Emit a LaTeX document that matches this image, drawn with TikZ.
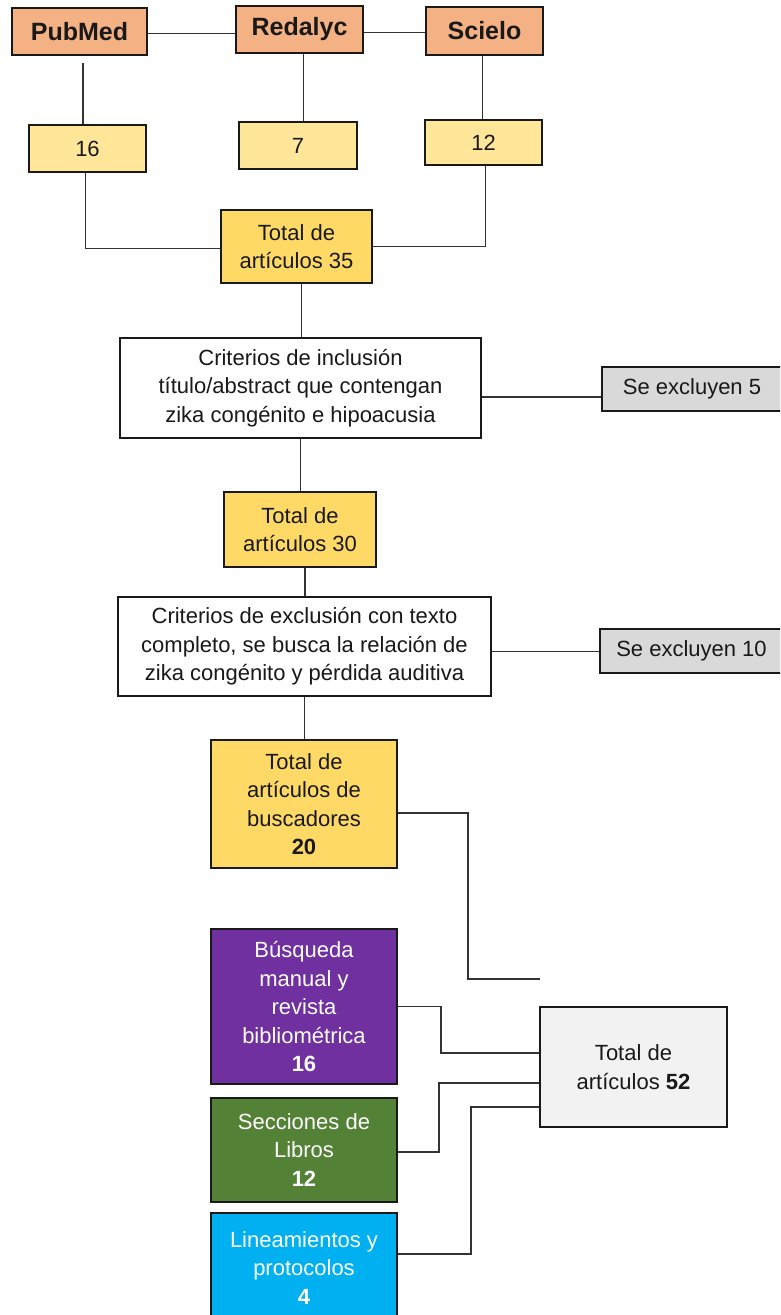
\documentclass[tikz,border=0pt]{standalone}
\usepackage{fontspec}
\setmainfont{Liberation Sans}
\definecolor{cOrange}{HTML}{F4B183}
\definecolor{cLYellow}{HTML}{FFE699}
\definecolor{cYellow}{HTML}{FFD966}
\definecolor{cGray}{HTML}{D9D9D9}
\definecolor{cLGray}{HTML}{F2F2F2}
\definecolor{cPurple}{HTML}{7030A0}
\definecolor{cGreen}{HTML}{538135}
\definecolor{cBlue}{HTML}{00B0F0}
\definecolor{cLine}{HTML}{333333}
\begin{document}
\begin{tikzpicture}[x=1pt,y=-1pt,
  box/.style={draw=black!90, line width=1.4pt, align=center, inner sep=2pt,
    font=\fontsize{22}{28.5}\selectfont, text=black!90},
  src/.style={box, fill=cOrange, font=\fontsize{25}{28}\selectfont\bfseries},
  conn/.style={draw=cLine, line width=1.8pt}]
\useasboundingbox (0,0) rectangle (780,1315);
\clip (0,0) rectangle (780,1315);
\fill[white] (0,0) rectangle (780,1315);
% sources
\node[src, minimum width=135, minimum height=47] (pub) at (79.5,31.5) {PubMed};
\node[src, minimum width=127, minimum height=47] (red) at (299.5,29.5) {Redalyc};
\node[src, minimum width=117, minimum height=48] (sci) at (484.5,31) {Scielo};
\node[box, fill=cLYellow, minimum width=117, minimum height=47] (n16) at (87.5,148.5) {16};
\node[box, fill=cLYellow, minimum width=118, minimum height=47] (n7) at (298,145.5) {7};
\node[box, fill=cLYellow, minimum width=117, minimum height=45] (n12) at (483.5,142.5) {12};
\node[box, fill=cYellow, minimum width=151, minimum height=73] (t35) at (296.5,246.5) {Total de\\artículos 35};
\node[box, fill=white, minimum width=361, minimum height=100] (inc) at (300.5,388) {Criterios de inclusión\\título/abstract que contengan\\zika congénito e hipoacusia};
\node[box, fill=cGray, minimum width=180, minimum height=44] (ex5) at (692,389) {Se excluyen 5};
\node[box, fill=cYellow, minimum width=152, minimum height=75] (t30) at (300,529.5) {Total de\\artículos 30};
\node[box, fill=white, minimum width=373, minimum height=99] (exc) at (304.5,646.5) {Criterios de exclusión con texto\\completo, se busca la relación de\\zika congénito y pérdida auditiva};
\node[box, fill=cGray, minimum width=183, minimum height=44] (ex10) at (691.5,651) {Se excluyen 10};
\node[box, fill=cYellow, minimum width=186, minimum height=128] (t20) at (304,804) {Total de\\artículos de\\buscadores\\\textbf{20}};
\node[box, fill=cPurple, text=white, minimum width=186, minimum height=155] (bus) at (304,1006.5) {Búsqueda\\manual y\\revista\\bibliométrica\\\textbf{16}};
\node[box, fill=cLGray, minimum width=187, minimum height=120] (t52) at (633.5,1067) {Total de\\artículos \textbf{52}};
\node[box, fill=cGreen, text=white, minimum width=186, minimum height=104] (sec) at (304,1150) {Secciones de\\Libros\\\textbf{12}};
\node[box, fill=cBlue, text=white, minimum width=186, minimum height=110] (lin) at (304,1268) {Lineamientos y\\protocolos\\\textbf{4}};
\coordinate (free) at (540,979);
% connectors
\draw[conn] ([yshift=-2pt]pub.east) -- ([yshift=-2pt]pub.east -| red.west);
\draw[conn] ([yshift=-3pt]red.east) -- ([yshift=-3pt]red.east -| sci.west);
\draw[conn] ([xshift=3.5pt,yshift=-7pt]pub.south) -- ([xshift=3.5pt]pub.south |- n16.north);
\draw[conn] ([xshift=4pt]red.south) -- ([xshift=4pt]red.south |- n7.north);
\draw[conn] ([xshift=-2pt]sci.south) -- ([xshift=-2pt]sci.south |- n12.north);
\draw[conn] ([xshift=-2pt]n16.south) |- ([yshift=-2pt]t35.west);
\draw[conn] ([xshift=2pt]n12.south) |- (t35.east);
\draw[conn] ([xshift=5pt]t35.south) -- ([xshift=5pt]t35.south |- inc.north);
\draw[conn] ([yshift=-9pt]inc.east) -- ([yshift=-9pt]inc.east -| ex5.west);
\draw[conn] (inc.south) -- (inc.south |- t30.north);
\draw[conn] ([xshift=5pt]t30.south) -- ([xshift=5pt]t30.south |- exc.north);
\draw[conn] ([yshift=-5pt]exc.east) -- ([yshift=-5pt]exc.east -| ex10.west);
\draw[conn] (exc.south) -- (exc.south |- t20.north);
\draw[conn] ([yshift=-9pt]t20.east) -- ++(70,0) |- (free);
\draw[conn] (bus.east) -- ++(43,0) |- ([yshift=14pt]t52.west);
\draw[conn] ([yshift=-2pt]sec.east) -- ++(41,0) |- ([yshift=-16pt]t52.west);
\draw[conn] ([yshift=14pt]lin.east) -- ++(73,0) |- ([yshift=-40pt]t52.west);
\end{tikzpicture}
\end{document}
